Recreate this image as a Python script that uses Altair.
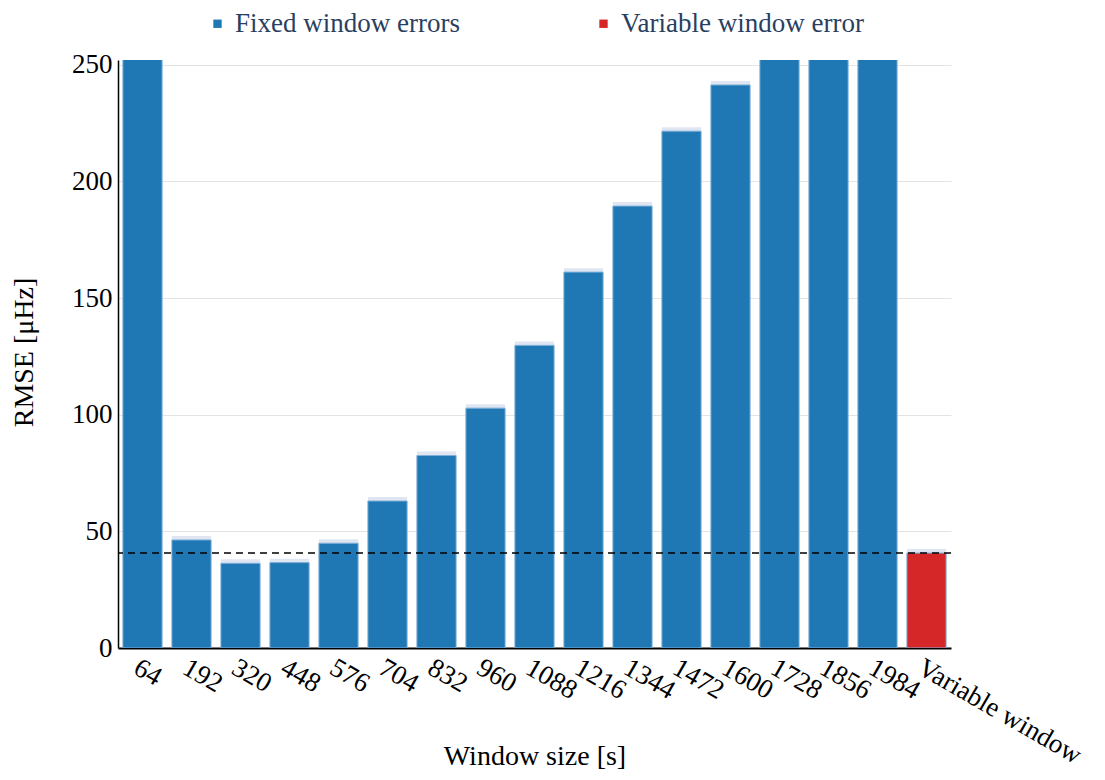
import altair as alt
import pandas as pd

windows = ["64", "192", "320", "448", "576", "704", "832", "960", "1088",
           "1216", "1344", "1472", "1600", "1728", "1856", "1984", "Variable window"]
rmse = [380.0, 46.3, 36.3, 36.6, 44.9, 63.0, 82.5, 102.8, 129.7,
        161.1, 189.4, 221.5, 241.3, 280.0, 310.0, 340.0, 40.7]
errs = [1.7, 1.7, 1.7, 1.7, 1.7, 1.7, 1.7, 1.7, 1.7,
        1.7, 1.7, 1.7, 1.7, 1.7, 1.7, 1.7, 1.7]
groups = ["Fixed window errors"] * 16 + ["Variable window error"]
variable_value = [40.7]

df = pd.DataFrame({
    "window": windows,
    "rmse": rmse,
    "lo": [v - e for v, e in zip(rmse, errs)],
    "hi": [v + e for v, e in zip(rmse, errs)],
    "group": groups,
})
ref = pd.DataFrame({"v": variable_value})

FONT = "Liberation Serif"
W, H = 833, 588

xenc = alt.X("window:N", sort=windows, title="Window size [s]",
             scale=alt.Scale(paddingInner=0.2, paddingOuter=0.1),
             axis=alt.Axis(labelAngle=30, labelAlign="left", labelBaseline="top",
                           labelPadding=6, labelFontSize=27, labelFont=FONT,
                           labelColor="black", ticks=False, domainColor="black",
                           domainWidth=2, titleFontSize=28, titleFont=FONT,
                           titleFontWeight="normal", titleColor="black",
                           titleY=108, titleBaseline="middle", grid=False,
                           labelOverlap=False, labelLimit=400))
yscale = alt.Scale(domain=[0, 252], nice=False)
yaxis = alt.Axis(values=[0, 50, 100, 150, 200, 250], labelFontSize=27, labelFont=FONT,
                 labelColor="black", ticks=False, labelPadding=6,
                 domainColor="black", domainWidth=1.5, gridColor="#e3e3e3",
                 title="RMSE [μHz]", titleFontSize=28, titleFont=FONT,
                 titleFontWeight="normal", titleColor="black",
                 titleX=-94, titleY=292, titleBaseline="middle", titleAlign="center")

err = alt.Chart(df).mark_bar(color="#dfe6f2", clip=True).encode(
    x=xenc,
    y=alt.Y("lo:Q", scale=yscale, axis=yaxis),
    y2="hi:Q",
)

bars = alt.Chart(df).mark_bar(clip=True, stroke="#7fb0da", strokeWidth=1).encode(
    x=alt.X("window:N", sort=windows),
    y=alt.Y("rmse:Q", scale=yscale),
    color=alt.Color("group:N",
                    scale=alt.Scale(domain=["Fixed window errors", "Variable window error"],
                                    range=["#1f77b4", "#d62728"]),
                    legend=alt.Legend(title=None, orient="none", legendX=86, legendY=-50,
                                      direction="horizontal", symbolType="square",
                                      symbolSize=70, symbolStrokeWidth=0,
                                      labelFont=FONT, labelFontSize=27,
                                      labelColor="#2a3f5f", labelOffset=4,
                                      columnPadding=130, labelLimit=400)),
)

rule = alt.Chart(ref).mark_rule(color="black", strokeDash=[7, 5], strokeWidth=1.5).encode(
    y=alt.Y("v:Q", scale=yscale)
)

chart = alt.layer(err, bars, rule).properties(
    width=W, height=H,
    autosize=alt.AutoSizeParams(type="none"),
    padding={"left": 110, "top": 52, "right": 140, "bottom": 124},
    background="white",
).configure_view(strokeWidth=0, stroke="transparent")

chart.save("out.html", embed_options={"renderer": "svg", "actions": False})
